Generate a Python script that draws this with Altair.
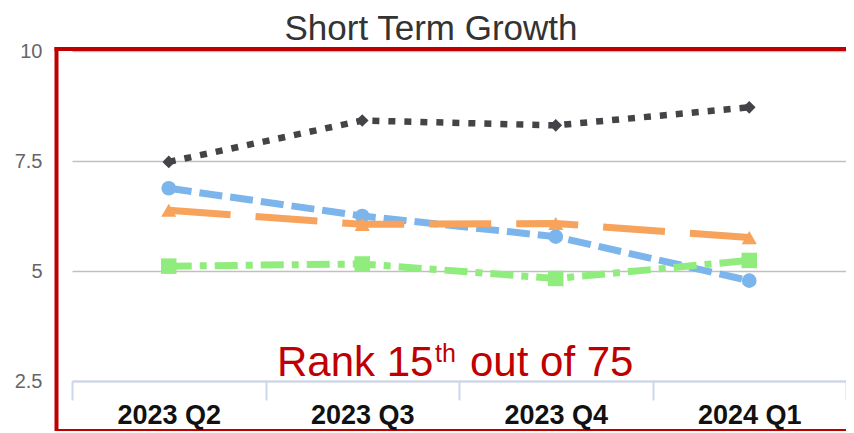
import altair as alt
import pandas as pd

# ---- data ----
quarters = ["2023 Q2", "2023 Q3", "2023 Q4", "2024 Q1"]
series_blue = [6.88, 6.25, 5.78, 4.78]
series_dark = [7.48, 8.42, 8.31, 8.72]
series_green = [5.11, 5.16, 4.83, 5.24]
series_orange = [6.38, 6.06, 6.08, 5.76]
y_ticks = [2.5, 5, 7.5, 10]

title_text = ["Short Term Growth"]
rank_main = ["Rank 15"]
rank_sup = ["th"]
rank_tail = ["out of 75"]

FONT = "Liberation Sans"
RED = "#C00000"

xscale = alt.Scale(type="band", domain=quarters, paddingInner=0, paddingOuter=0)
yscale = alt.Scale(domain=[2.5, 10], nice=False, zero=False)

x_axis = alt.Axis(
    title=None, tickBand="extent", labelFont=FONT, labelFontSize=27,
    labelFontWeight="bold", labelColor="#111111", labelBaseline="alphabetic",
    labelPadding=23, tickSize=19, tickColor="#ccd6eb", tickWidth=2,
    domainColor="#ccd6eb", domainWidth=2, grid=False, labelAngle=0, zindex=1,
)
y_axis = alt.Axis(
    title=None, values=y_ticks, format=".1~f", labelFont=FONT, labelFontSize=20,
    labelColor="#666666", ticks=False, tickSize=0, domain=False,
    labelPadding=30, grid=True, gridColor="#c0c0c0", gridWidth=1.5,
)


def series_layers(vals, color, dash, width, shape, size):
    df = pd.DataFrame({"quarter": quarters, "value": vals})
    base = alt.Chart(df).encode(
        x=alt.X("quarter:N", scale=xscale, axis=x_axis, sort=quarters, bandPosition=0.5),
        y=alt.Y("value:Q", scale=yscale, axis=y_axis),
    )
    line = base.mark_line(color=color, strokeDash=dash, strokeWidth=width, strokeCap="butt")
    pts = base.mark_point(shape=shape, size=size, filled=True, color=color, opacity=1)
    return [line, pts]


layers = []
layers += series_layers(series_blue, "#7cb5ec", [23, 8], 7, "circle", 215)
layers += series_layers(series_dark, "#434348", [7, 9], 6.5, "diamond", 160)
layers += series_layers(series_green, "#90ed7d", [23, 8, 7, 8], 7, "square", 240)
layers += series_layers(series_orange, "#f7a35c", [62, 25], 7, "triangle-up", 230)

title = alt.Chart(pd.DataFrame({"t": title_text})).mark_text(
    font=FONT, fontSize=35, color="#333333", align="center", baseline="alphabetic"
).encode(x=alt.value(359), y=alt.value(-11), text="t:N")

rank1 = alt.Chart(pd.DataFrame({"t": rank_main})).mark_text(
    font=FONT, fontSize=42, color=RED, align="left", baseline="alphabetic"
).encode(x=alt.value(205), y=alt.value(325), text="t:N")
rank2 = alt.Chart(pd.DataFrame({"t": rank_sup})).mark_text(
    font=FONT, fontSize=25, color=RED, align="left", baseline="alphabetic"
).encode(x=alt.value(363), y=alt.value(311), text="t:N")
rank3 = alt.Chart(pd.DataFrame({"t": rank_tail})).mark_text(
    font=FONT, fontSize=42, color=RED, align="left", baseline="alphabetic"
).encode(x=alt.value(398), y=alt.value(325), text="t:N")

frame_df = pd.DataFrame({"a": [0]})
border_left = alt.Chart(frame_df).mark_rule(color=RED, strokeWidth=4).encode(
    x=alt.value(-15.5), y=alt.value(-4), y2=alt.value(380)
)
border_top = alt.Chart(frame_df).mark_rule(color=RED, strokeWidth=4).encode(
    x=alt.value(-17.5), x2=alt.value(774), y=alt.value(-2)
)
border_bottom = alt.Chart(frame_df).mark_rule(color=RED, strokeWidth=2).encode(
    x=alt.value(-15.5), x2=alt.value(774), y=alt.value(379)
)

chart = alt.layer(
    *layers, title, rank1, rank2, rank3, border_left, border_top, border_bottom
).properties(
    width=774,
    height=330,
    autosize=alt.AutoSizeParams(type="none"),
    padding={"left": 64, "top": 43, "right": 0, "bottom": 50},
).configure_view(stroke="transparent")

chart.save("out.html", embed_options={"renderer": "svg", "actions": False})
